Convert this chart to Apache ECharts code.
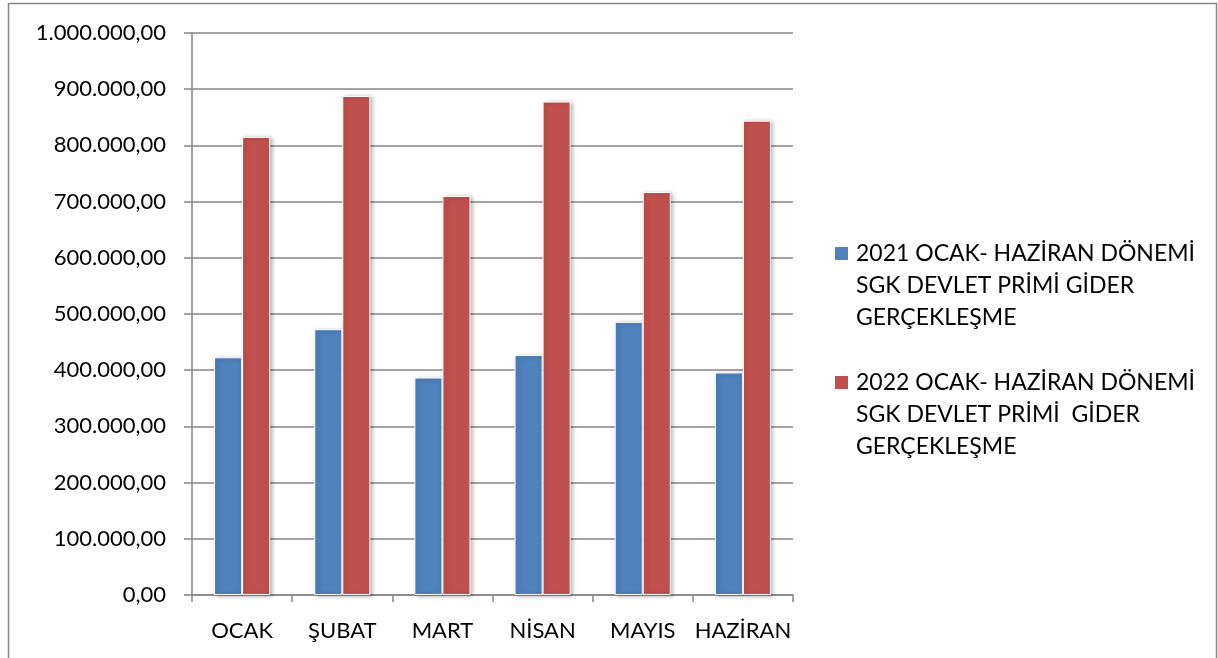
<!DOCTYPE html>
<html>
<head>
<meta charset="utf-8">
<script src="https://cdn.jsdelivr.net/npm/echarts@6/dist/echarts.min.js"></script>
<style>
html,body{margin:0;padding:0;background:#fff;}
#c{width:1218px;height:658px;}
</style>
</head>
<body>
<div id="c"></div>
<script>
const categories = ['OCAK', 'ŞUBAT', 'MART', 'NİSAN', 'MAYIS', 'HAZİRAN'];
const series2021Name = '2021 OCAK- HAZİRAN DÖNEMİ SGK DEVLET PRİMİ GİDER GERÇEKLEŞME';
const series2022Name = '2022 OCAK- HAZİRAN DÖNEMİ SGK DEVLET PRİMİ  GİDER GERÇEKLEŞME';
const legend2021Lines = ['2021 OCAK- HAZİRAN DÖNEMİ', 'SGK DEVLET PRİMİ GİDER', 'GERÇEKLEŞME'];
const legend2022Lines = ['2022 OCAK- HAZİRAN DÖNEMİ', 'SGK DEVLET PRİMİ  GİDER', 'GERÇEKLEŞME'];
const values2021 = [423000, 473000, 387000, 427000, 486000, 396000];
const values2022 = [815000, 888000, 710000, 878000, 717000, 844000];
const yMin = 0, yMax = 1000000, yStep = 100000;

const FONT = 'Lato';
const blue = '#4F81BD', red = '#C0504D', gridCol = '#868686';

function fmt(v) {
  return String(Math.round(v)).replace(/\B(?=(\d{3})+(?!\d))/g, '.') + ',00';
}

const chart = echarts.init(document.getElementById('c'), null, {renderer: 'canvas'});

const barStyle = (c) => ({
  color: c,
  borderColor: '#ffffff',
  borderWidth: 1,
  shadowColor: 'rgba(0,0,0,0.28)',
  shadowBlur: 4,
  shadowOffsetX: 2,
  shadowOffsetY: 1
});

chart.setOption({
  animation: false,
  backgroundColor: '#ffffff',
  textStyle: {fontFamily: FONT},
  graphic: [{
    type: 'rect',
    shape: {x: 8.5, y: 3.5, width: 1208, height: 700},
    style: {fill: 'none', stroke: gridCol, lineWidth: 1.5},
    silent: true
  }],
  grid: {left: 192, top: 33, right: 425, bottom: 63, containLabel: false},
  legend: {
    orient: 'vertical',
    left: 825,
    top: 237,
    icon: 'none',
    itemWidth: 0,
    itemHeight: 0,
    itemGap: 42,
    selectedMode: false,
    data: [series2021Name, series2022Name],
    formatter: function (name) {
      const lines = name === series2021Name ? legend2021Lines : legend2022Lines;
      const sq = name === series2021Name ? 'sqA' : 'sqB';
      return lines.map((l, i) => (i === 0 ? '{' + sq + '|}' : '{sp|}') + '{t|' + l + '}').join('\n');
    },
    textStyle: {
      rich: {
        sqA: {width: 13, height: 13, backgroundColor: blue, align: 'left'},
        sqB: {width: 13, height: 13, backgroundColor: red, align: 'left'},
        sp: {width: 13, height: 13},
        t: {fontFamily: FONT, fontSize: 23, color: '#000', lineHeight: 32, padding: [0, 0, 0, 8]}
      }
    }
  },
  xAxis: {
    type: 'category',
    data: categories,
    axisLine: {show: true, lineStyle: {color: gridCol, width: 1.5}},
    axisTick: {show: true, length: 7, lineStyle: {color: gridCol, width: 1.5}},
    axisLabel: {color: '#000', fontFamily: FONT, fontSize: 22, margin: 25, interval: 0}
  },
  yAxis: {
    type: 'value',
    min: yMin,
    max: yMax,
    interval: yStep,
    axisLine: {show: true, lineStyle: {color: gridCol, width: 1.5}},
    axisTick: {show: true, length: 8, lineStyle: {color: gridCol, width: 1.5}},
    splitLine: {show: true, lineStyle: {color: gridCol, width: 1.5}},
    axisLabel: {color: '#000', fontFamily: FONT, fontSize: 22, margin: 26, formatter: fmt}
  },
  series: [
    {name: series2021Name, type: 'bar', data: values2021, barGap: '0%', barCategoryGap: '44%', itemStyle: barStyle(blue)},
    {name: series2022Name, type: 'bar', data: values2022, barGap: '0%', barCategoryGap: '44%', itemStyle: barStyle(red)}
  ]
});
</script>
</body>
</html>
